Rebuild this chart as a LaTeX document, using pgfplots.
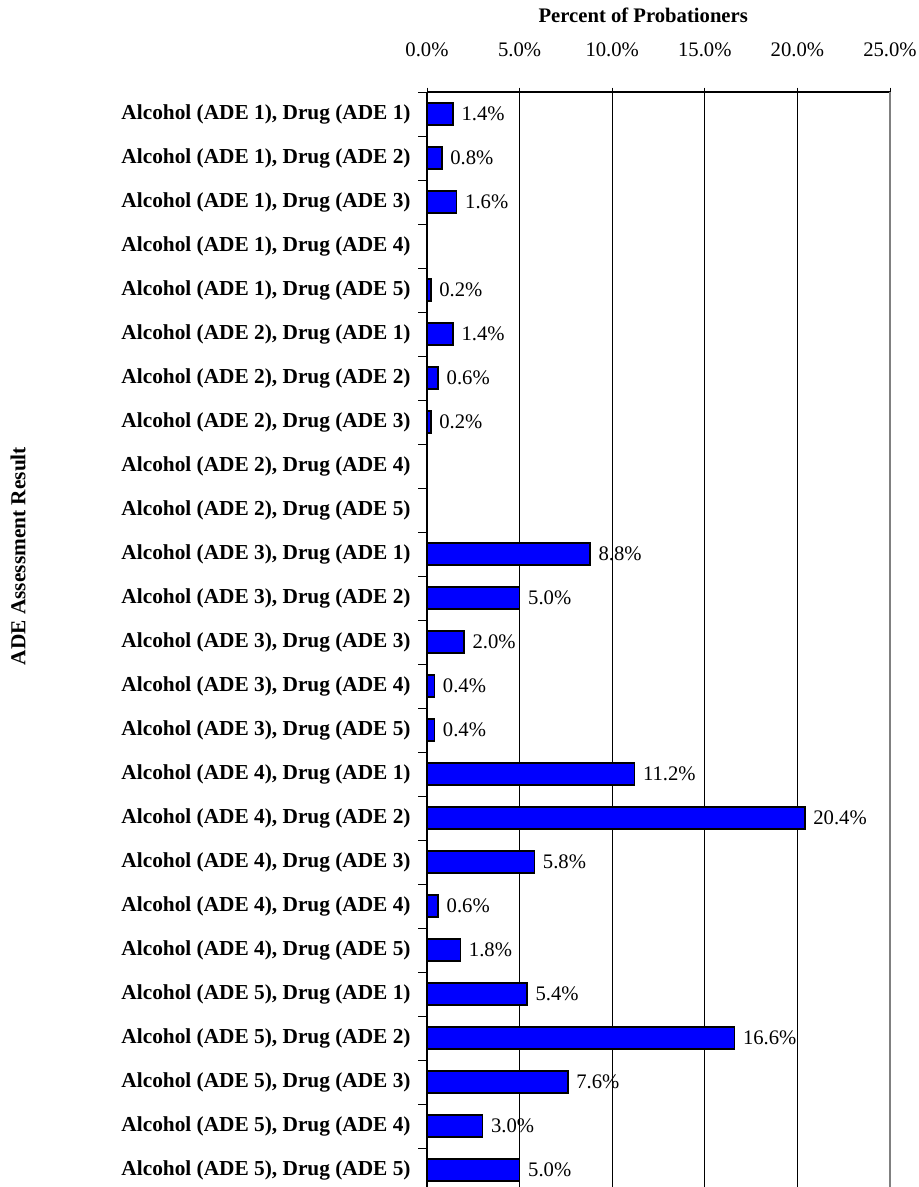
\documentclass[border=0pt]{standalone}
\usepackage{fontspec}
\setmainfont{Liberation Serif}
\usepackage{pgfplots}
\pgfplotsset{compat=1.18}
\begin{document}
\begin{tikzpicture}
\useasboundingbox (0,0) rectangle (689.25pt,-890.25pt);
\begin{axis}[
  at={(320.25pt,-69pt)}, anchor=north west,
  scale only axis, width=347.25pt, height=821.25pt,
  xbar, bar width=0.5,
  y dir=reverse,
  xmin=0, xmax=25, ymin=-0.5, ymax=24.386,
  clip=false,
  axis x line*=top, axis y line*=left,
  axis line style={black, line width=0.8pt},
  /pgf/number format/assume math mode=true,
  xtick={0,5,...,25},
  xticklabel={\pgfmathprintnumber[fixed,fixed zerofill,precision=1]{\tick}\%},
  xticklabel style={font=\fontsize{15.5}{18}\selectfont, anchor=base, yshift=23.25pt},
  xtick align=center,
  major tick length=6.75pt, minor tick length=6.75pt,
  every tick/.style={black, line width=0.6pt},
  xmajorgrids, major grid style={black, line width=0.6pt},
  ytick={0,...,24},
  minor ytick={-0.5,0.5,...,24.5},
  ytick align=outside,
  major y tick style={draw=none},
  yticklabels={
    {Alcohol (ADE 1), Drug (ADE 1)},{Alcohol (ADE 1), Drug (ADE 2)},{Alcohol (ADE 1), Drug (ADE 3)},{Alcohol (ADE 1), Drug (ADE 4)},{Alcohol (ADE 1), Drug (ADE 5)},
    {Alcohol (ADE 2), Drug (ADE 1)},{Alcohol (ADE 2), Drug (ADE 2)},{Alcohol (ADE 2), Drug (ADE 3)},{Alcohol (ADE 2), Drug (ADE 4)},{Alcohol (ADE 2), Drug (ADE 5)},
    {Alcohol (ADE 3), Drug (ADE 1)},{Alcohol (ADE 3), Drug (ADE 2)},{Alcohol (ADE 3), Drug (ADE 3)},{Alcohol (ADE 3), Drug (ADE 4)},{Alcohol (ADE 3), Drug (ADE 5)},
    {Alcohol (ADE 4), Drug (ADE 1)},{Alcohol (ADE 4), Drug (ADE 2)},{Alcohol (ADE 4), Drug (ADE 3)},{Alcohol (ADE 4), Drug (ADE 4)},{Alcohol (ADE 4), Drug (ADE 5)},
    {Alcohol (ADE 5), Drug (ADE 1)},{Alcohol (ADE 5), Drug (ADE 2)},{Alcohol (ADE 5), Drug (ADE 3)},{Alcohol (ADE 5), Drug (ADE 4)},{Alcohol (ADE 5), Drug (ADE 5)}},
  yticklabel style={font=\bfseries\fontsize{16}{19}\selectfont, anchor=east, xshift=-2pt},
  xlabel={Percent of Probationers},
  xlabel style={font=\bfseries\fontsize{15.5}{18}\selectfont, at={(axis description cs:0.467,1)}, anchor=center, yshift=57.75pt},
  ylabel={ADE Assessment Result},
  ylabel style={font=\bfseries\fontsize{16}{19}\selectfont, at={(axis description cs:0,0.5)}, anchor=center, xshift=62.6pt, yshift=306.75pt},
  nodes near coords={\pgfmathprintnumber[fixed,fixed zerofill,precision=1]{\pgfplotspointmeta}\%},
  nodes near coords style={font=\fontsize{15.5}{18}\selectfont, anchor=west, xshift=2.5pt},
]
\addplot[fill={rgb,255:red,0;green,0;blue,255}, draw=black, line width=1.2pt] coordinates {
  (1.4,0) (0.8,1) (1.6,2) (0.2,4)
  (1.4,5) (0.6,6) (0.2,7)
  (8.8,10) (5.0,11) (2.0,12) (0.4,13) (0.4,14)
  (11.2,15) (20.4,16) (5.8,17) (0.6,18) (1.8,19)
  (5.4,20) (16.6,21) (7.6,22) (3.0,23) (5.0,24)
};
\draw[gray, line width=1.5pt] (rel axis cs:1,0) -- (rel axis cs:1,1);
\end{axis}
\end{tikzpicture}
\end{document}
